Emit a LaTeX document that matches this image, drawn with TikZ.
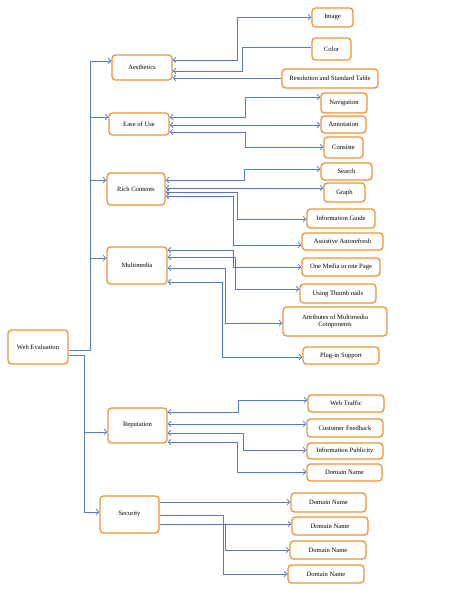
\documentclass[tikz,border=0pt]{standalone}
\usepackage{fontspec}
\setmainfont{Liberation Serif}
\usetikzlibrary{arrows.meta}
\definecolor{boxorange}{RGB}{236,146,58}
\definecolor{linkblue}{RGB}{84,124,188}
\tikzset{
	box/.style 2 args={draw=boxorange,line width=1.3pt,rounded corners=3.5pt,fill=white,inner sep=1pt,minimum width=#1,minimum height=#2,font=\fontsize{6.6}{7.6}\selectfont,align=center},
	link/.style={draw=linkblue,line width=0.75pt}
}
\begin{document}
\begin{tikzpicture}[x=1pt,y=-1pt,>={Straight Barb[length=2.8pt,width=5.5pt]}]
					\useasboundingbox (0,0) rectangle (474,594);
					\node [box={60pt}{34pt}] (we) at (38,347) {Web Evaluation};

					\node [box={60pt}{25pt}] (aes) at (142,67.5) {Aesthetics};
					\node [box={60pt}{22pt}] (eou) at (139,124) {Ease of Use};
					\node [box={58pt}{32pt}] (rc) at (136,189) {Rich Contents};
					\node [box={60pt}{37pt}] (mm) at (137,265.5) {Multimedia};
					\node [box={59pt}{35pt}] (rep) at (137.5,425.5) {Reputation};
					\node [box={59pt}{37pt}] (sec) at (129.5,514.5) {Security};

					\node [box={41pt}{19pt}] (img) at (332.5,17.5) {Image};
					\node [box={39pt}{22pt}] (col) at (331.5,49) {Color};
					\node [box={96pt}{19pt}] (res) at (330,78.5) {Resolution and Standard Table};
					\node [box={46pt}{20pt}] (nav) at (344,103) {Navigation};
					\node [box={45pt}{17pt}] (ann) at (343.5,124.5) {Annotation};
					\node [box={39pt}{21pt}] (con) at (343.5,147.5) {Consiste};
					\node [box={51pt}{17pt}] (sea) at (346.5,171.5) {Search};
					\node [box={41pt}{19pt}] (gra) at (344.5,192.5) {Graph};
					\node [box={68pt}{19pt}] (ig) at (341,218.5) {Information Guide};
					\node [box={81pt}{17pt}] (ass) at (342.5,241.5) {Assistive Autorefresh};
					\node [box={78pt}{18pt}] (one) at (341,267) {One Media in one Page};
					\node [box={76pt}{19pt}] (thu) at (338,293.5) {Using Thumb nails};
					\node [box={104pt}{29pt}] (att) at (335,321.5) {Attributes of Multimedia\\Components};
					\node [box={76pt}{17pt}] (plu) at (341,355.5) {Plug-in Support};
					\node [box={76pt}{17pt}] (wt) at (346,403.5) {Web Traffic};
					\node [box={76pt}{18pt}] (cf) at (345,428) {Customer Feedback};
					\node [box={76pt}{16pt}] (ip) at (345,451) {Information Publicity};
					\node [box={75pt}{17pt}] (dnr) at (344.5,472.5) {Domain Name};
					\node [box={75pt}{19pt}] (dn1) at (328.5,502.5) {Domain Name};
					\node [box={76pt}{18pt}] (dn2) at (330,526) {Domain Name};
					\node [box={76pt}{18pt}] (dn3) at (328,550) {Domain Name};
					\node [box={76pt}{18pt}] (dn4) at (326,574) {Domain Name};

					\draw [link,->] (we.east |- 0,350) -| (90,61) -- (aes.west |- 0,61);
					\draw [link,->] (90,117) -- (eou.west |- 0,117);
					\draw [link,->] (90,180) -- (rc.west |- 0,180);
					\draw [link,->] (90,258) -- (mm.west |- 0,258);
					\draw [link,->] (we.east |- 0,355) -| (84,512) -- (sec.west |- 0,512);
					\draw [link,->] (84,432) -- (rep.west |- 0,432);

					\draw [link,<->] (aes.east |- 0,60) -| (237,17) -- (img.west |- 0,17);
					\draw [link,<-] (aes.east |- 0,71) -| (242,47) -- (col.west |- 0,47);
					\draw [link,<-] (aes.east |- 0,78) -- (res.west |- 0,78);

					\draw [link,<->] (eou.east |- 0,117) -| (245,97) -- (nav.west |- 0,97);
					\draw [link,<->] (eou.east |- 0,125) -- (ann.west |- 0,125);
					\draw [link,<->] (eou.east |- 0,132) -| (245,147) -- (con.west |- 0,147);

					\draw [link,<->] (rc.east |- 0,180) -| (244,169) -- (sea.west |- 0,169);
					\draw [link,<->] (rc.east |- 0,188) -- (gra.west |- 0,188);
					\draw [link,<->] (rc.east |- 0,192) -| (237,219) -- (ig.west |- 0,219);
					\draw [link,<->] (rc.east |- 0,196) -| (233,245) -- (ass.west |- 0,245);

					\draw [link,<->] (mm.east |- 0,250) -| (233,267) -- (one.west |- 0,267);
					\draw [link,<->] (mm.east |- 0,257) -| (235,289) -- (thu.west |- 0,289);
					\draw [link,<->] (mm.east |- 0,268) -| (225,323) -- (att.west |- 0,323);
					\draw [link,<->] (mm.east |- 0,282) -| (222,357) -- (plu.west |- 0,357);

					\draw [link,<->] (rep.east |- 0,412) -| (238,400) -- (wt.west |- 0,400);
					\draw [link,<->] (rep.east |- 0,424) -- (cf.west |- 0,424);
					\draw [link,<->] (rep.east |- 0,433) -| (243,450) -- (ip.west |- 0,450);
					\draw [link,<->] (rep.east |- 0,442) -| (237,472) -- (dnr.west |- 0,472);

					\draw [link,->] (sec.east |- 0,502) -- (dn1.west |- 0,502);
					\draw [link,->] (sec.east |- 0,524) -- (dn2.west |- 0,524);
					\draw [link,->] (sec.east |- 0,524) -| (225,550) -- (dn3.west |- 0,550);
					\draw [link,->] (sec.east |- 0,515) -| (223,574) -- (dn4.west |- 0,574);
				\end{tikzpicture}
\end{document}
